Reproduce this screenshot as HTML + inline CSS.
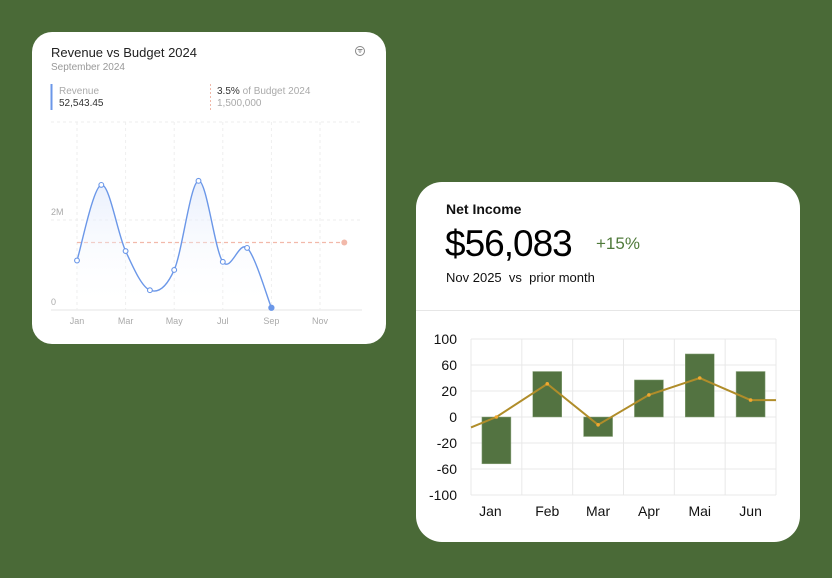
<!DOCTYPE html>
<html><head><meta charset="utf-8"><style>
html,body{margin:0;padding:0}
body{width:832px;height:578px;background:#4a6a37;position:relative;overflow:hidden;font-family:"Liberation Sans",sans-serif}
.card{position:absolute;background:#fff}
#c1{left:32px;top:32px;width:354px;height:312px;border-radius:20px}
#c2{left:416px;top:182px;width:384px;height:360px;border-radius:26px}
.t{position:absolute;white-space:nowrap}
svg{position:absolute;left:0;top:0}
</style></head><body>
<div class="card" id="c1">
  <div class="t" style="left:19px;top:13px;font-size:13px;color:#222">Revenue vs Budget 2024</div>
  <div class="t" style="left:19px;top:30px;font-size:10px;color:#999">September 2024</div>
  <svg width="354" height="312" id="s1">
    <circle cx="328" cy="19" r="4.5" fill="none" stroke="#888" stroke-width="1"/>
    <path d="M325.5 17.5h5M326.5 19h3M327.5 20.5h1" stroke="#888" stroke-width="0.9"/>
    <line x1="19.5" y1="52" x2="19.5" y2="78" stroke="#6b97e8" stroke-width="2"/>
    <line x1="178.5" y1="52" x2="178.5" y2="78" stroke="#f0b8a8" stroke-width="1" stroke-dasharray="2,2"/>
  </svg>
  <div class="t" style="left:27px;top:54px;font-size:10px;color:#aaa">Revenue</div>
  <div class="t" style="left:27px;top:66px;font-size:10px;color:#333">52,543.45</div>
  <div class="t" style="left:185px;top:54px;font-size:10px;color:#aaa"><span style="color:#333">3.5%</span> of Budget 2024</div>
  <div class="t" style="left:185px;top:66px;font-size:10px;color:#aaa">1,500,000</div>
</div>
<div class="card" id="c2">
  <div class="t" style="left:30px;top:19px;font-size:14px;font-weight:bold;color:#111">Net Income</div>
  <div class="t" style="left:29px;top:41px;font-size:37px;color:#000;letter-spacing:-1px">$56,083</div>
  <div class="t" style="left:180px;top:52px;font-size:17px;color:#4f7a3a">+15%</div>
  <div class="t" style="left:30px;top:88px;font-size:13px;color:#111">Nov 2025&nbsp; vs&nbsp; prior month</div>
  <div style="position:absolute;left:0;right:0;top:128px;height:1px;background:#e6e6e6"></div>
</div>
<svg width="832" height="578" id="s2"></svg>
<script>
// ---- Revenue chart data ----
const revMonths = ['Jan','Feb','Mar','Apr','May','Jun','Jul','Aug','Sep','Oct','Nov','Dec'];
const revTickMonths = ['Jan','Mar','May','Jul','Sep','Nov'];
const revValues = [1.1, 2.78, 1.31, 0.44, 0.89, 2.87, 1.07, 1.38, 0.05];
const budgetValue = [1.5];
const revYTicks = [0, 2];
const revYTickLabels = ['0', '2M'];
// ---- Net income chart data ----
const niCats = ['Jan','Feb','Mar','Apr','Mai','Jun'];
const niBars = [-52, 50, -15, 37, 77, 50];
const niLine = [0, 31, -6, 17, 40, 13];
const niLineStart = [-8];
const niLineEnd = [13];
const niTicks = [100, 60, 20, 0, -20, -60, -100];

const NS='http://www.w3.org/2000/svg';
function mk(p,tag,attrs){const e=document.createElementNS(NS,tag);for(const k in attrs)e.setAttribute(k,attrs[k]);p.appendChild(e);return e;}

(function(){
  const s=document.getElementById('s1');
  const x=i=>45+i*24.3, y=v=>278-v*45;
  mk(s,'line',{x1:19,x2:330,y1:90,y2:90,stroke:'#eee','stroke-dasharray':'3,3'});
  revYTicks.forEach((t,i)=>{
    const g=mk(s,'line',{x1:19,x2:330,y1:y(t),y2:y(t),stroke:t===0?'#e6e6e6':'#eee','stroke-dasharray':t===0?'':'3,3'});
    
    
    const tx=mk(s,'text',{x:19,y:y(t)-5,'font-size':9,fill:'#aaa'});tx.textContent=revYTickLabels[i];
    
    
  });
  revTickMonths.forEach(m=>{
    const i=revMonths.indexOf(m);
    mk(s,'line',{x1:x(i),x2:x(i),y1:90,y2:278,stroke:'#eee','stroke-dasharray':'3,3'});
    const tx=mk(s,'text',{x:x(i),y:292,'font-size':9,fill:'#aaa','text-anchor':'middle'});tx.textContent=m;
    
    
  });
  const b=mk(s,'line',{x1:x(0),x2:x(11),y1:y(budgetValue[0]),y2:y(budgetValue[0]),stroke:'#f2b9aa','stroke-width':1.2,'stroke-dasharray':'4,3'});
  
  
  mk(s,'circle',{cx:x(11),cy:y(budgetValue[0]),r:3,fill:'#f2b9aa'});
  const P=revValues.map((v,i)=>[x(i),y(v)]);
  let d='M'+P[0][0]+' '+P[0][1];
  for(let i=0;i<P.length-1;i++){
    const p0=P[Math.max(0,i-1)],p1=P[i],p2=P[i+1],p3=P[Math.min(P.length-1,i+2)];
    const c1=[p1[0]+(p2[0]-p0[0])/6,p1[1]+(p2[1]-p0[1])/6],c2=[p2[0]-(p3[0]-p1[0])/6,p2[1]-(p3[1]-p1[1])/6];
    d+=` C${c1[0]} ${c1[1]} ${c2[0]} ${c2[1]} ${p2[0]} ${p2[1]}`;
  }
  const defs=mk(s,'defs',{});const lg=mk(defs,'linearGradient',{id:'rg',x1:0,y1:0,x2:0,y2:1});
  mk(lg,'stop',{offset:0,'stop-color':'#dfe8fb','stop-opacity':0.7});mk(lg,'stop',{offset:1,'stop-color':'#fff','stop-opacity':0});
  mk(s,'path',{d:d+` L${P[P.length-1][0]} ${y(0)} L${P[0][0]} ${y(0)}Z`,fill:'url(#rg)'});
  const ln=mk(s,'path',{d:d,fill:'none',stroke:'#6b97e8','stroke-width':1.4});
  
  
  P.forEach((p,i)=>{
    const last=i===P.length-1;
    const c=mk(s,'circle',{cx:p[0],cy:p[1],r:last?2.6:2.4,fill:last?'#6b97e8':'#fff',stroke:'#6b97e8','stroke-width':1.1});
    
    
  });
})();

(function(){
  const s=document.getElementById('s2');
  const L=471,R=776,T=339,B=495,bw=(R-L)/niCats.length;
  const step=(B-T)/(niTicks.length-1);
  function y(v){
    for(let i=0;i<niTicks.length-1;i++){
      const a=niTicks[i],b=niTicks[i+1];
      if(v<=a&&v>=b)return T+step*(i+(a-v)/(a-b));
    }
    return v>niTicks[0]?T:B;
  }
  const cx=i=>L+bw*(i+0.5);
  niTicks.forEach((t,i)=>{
    const yy=T+step*i;
    mk(s,'line',{x1:L,x2:R,y1:yy,y2:yy,stroke:'#e8e8e8'});
    const tx=mk(s,'text',{x:457,y:yy+5,'font-size':14,fill:'#111','text-anchor':'end'});tx.textContent=t;
    
    
  });
  for(let i=0;i<=niCats.length;i++) mk(s,'line',{x1:L+bw*i,x2:L+bw*i,y1:T,y2:B,stroke:'#e8e8e8'});
  niCats.forEach((c,i)=>{
    const tx=mk(s,'text',{x:cx(i)+(i===0?-6:0),y:516,'font-size':14,fill:'#111','text-anchor':'middle'});tx.textContent=c;
    
    
  });
  niBars.forEach((v,i)=>{
    const y0=y(0),yv=y(v);
    const r=mk(s,'rect',{x:cx(i)-14.5,y:Math.min(y0,yv),width:29,height:Math.abs(yv-y0),fill:'#537341',stroke:'#8fa880','stroke-width':0.5});
    
    
  });
  const pts=[[L,y(niLineStart[0])]].concat(niLine.map((v,i)=>[cx(i),y(v)])).concat([[R,y(niLineEnd[0])]]);
  const pl=mk(s,'polyline',{points:pts.map(p=>p.join(',')).join(' '),fill:'none',stroke:'#b08d2a','stroke-width':2});
  
  
  niLine.forEach((v,i)=>{
    const c=mk(s,'circle',{cx:cx(i),cy:y(v),r:1.8,fill:'#f0a830'});
    
    
  });
})();
</script>
</body></html>
